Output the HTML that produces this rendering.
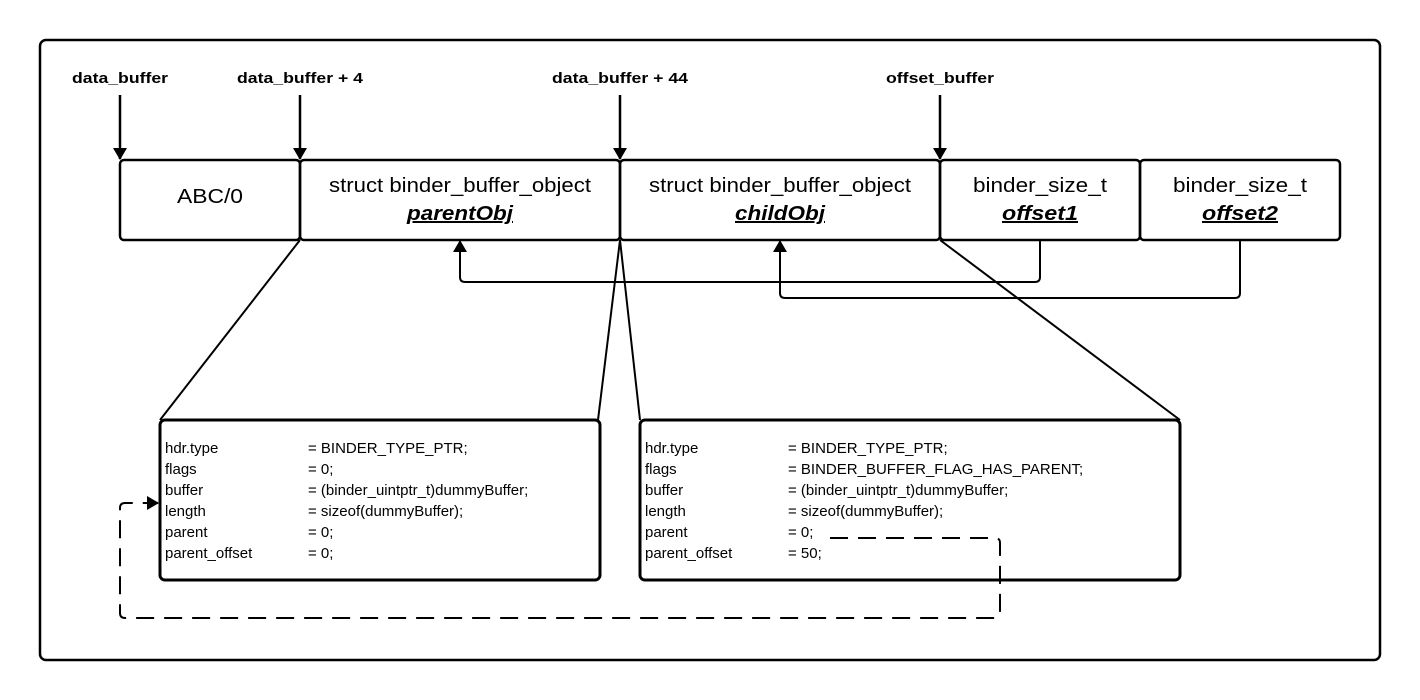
<!DOCTYPE html>
<html><head><style>body{margin:0;background:#fff}svg{display:block}text{font-family:"Liberation Sans",sans-serif;fill:#000}</style></head>
<body>
<svg width="1420" height="700" viewBox="0 0 1420 700">
<defs>
<marker id="b" markerWidth="12" markerHeight="14" refX="11" refY="7" orient="auto" markerUnits="userSpaceOnUse"><path d="M0,0 L12,7 L0,14 z"/></marker></defs>
<rect x="40" y="40" width="1340" height="620" rx="6" fill="none" stroke="#000" stroke-width="2.5"/>
<g font-size="15" font-weight="bold" text-anchor="middle" lengthAdjust="spacingAndGlyphs">
<text x="120" y="83" textLength="96" lengthAdjust="spacingAndGlyphs">data_buffer</text>
<text x="300" y="83" textLength="126" lengthAdjust="spacingAndGlyphs">data_buffer + 4</text>
<text x="620" y="83" textLength="136" lengthAdjust="spacingAndGlyphs">data_buffer + 44</text>
<text x="940" y="83" textLength="108" lengthAdjust="spacingAndGlyphs">offset_buffer</text>
</g>
<g stroke="#000" stroke-width="2.5" fill="none">
<line x1="120" y1="95" x2="120" y2="159" marker-end="url(#b)"/>
<line x1="300" y1="95" x2="300" y2="159" marker-end="url(#b)"/>
<line x1="620" y1="95" x2="620" y2="159" marker-end="url(#b)"/>
<line x1="940" y1="95" x2="940" y2="159" marker-end="url(#b)"/>
<rect x="120" y="160" width="180" height="80" rx="4"/>
<rect x="300" y="160" width="320" height="80" rx="4"/>
<rect x="620" y="160" width="320" height="80" rx="4"/>
<rect x="940" y="160" width="200" height="80" rx="4"/>
<rect x="1140" y="160" width="200" height="80" rx="4"/>
<path d="M1040,240 V277 Q1040,282 1035,282 H465 Q460,282 460,277 V241" stroke-width="2" marker-end="url(#b)"/>
<path d="M1240,240 V293 Q1240,298 1235,298 H785 Q780,298 780,293 V241" stroke-width="2" marker-end="url(#b)"/>
<g stroke-width="2">
<line x1="300" y1="240" x2="160" y2="420"/>
<line x1="620" y1="240" x2="598" y2="420"/>
<line x1="620" y1="240" x2="640" y2="420"/>
<line x1="940" y1="240" x2="1180" y2="420"/>
</g>
<rect x="160" y="420" width="440" height="160" rx="5" stroke-width="3"/>
<rect x="640" y="420" width="540" height="160" rx="5" stroke-width="3"/>
<path d="M830,538 H995 Q1000,538 1000,543 V613 Q1000,618 995,618 H125 Q120,618 120,613 V508 Q120,503 125,503 H158" stroke-width="2" stroke-dasharray="18,10" marker-end="url(#b)"/>
</g>
<g font-size="20" text-anchor="middle">
<text x="210" y="203" textLength="66" lengthAdjust="spacingAndGlyphs">ABC/0</text>
<text x="460" y="192" textLength="262" lengthAdjust="spacingAndGlyphs">struct binder_buffer_object</text>
<text x="780" y="192" textLength="262" lengthAdjust="spacingAndGlyphs">struct binder_buffer_object</text>
<text x="1040" y="192" textLength="134" lengthAdjust="spacingAndGlyphs">binder_size_t</text>
<text x="1240" y="192" textLength="134" lengthAdjust="spacingAndGlyphs">binder_size_t</text>
<g font-weight="bold" font-style="italic" text-decoration="underline">
<text x="460" y="220" textLength="106" lengthAdjust="spacingAndGlyphs">parentObj</text>
<text x="780" y="220" textLength="90" lengthAdjust="spacingAndGlyphs">childObj</text>
<text x="1040" y="220" textLength="76" lengthAdjust="spacingAndGlyphs">offset1</text>
<text x="1240" y="220" textLength="76" lengthAdjust="spacingAndGlyphs">offset2</text>
</g></g>
<g font-size="15">
<text x="165" y="453">hdr.type</text><text x="308" y="453">= BINDER_TYPE_PTR;</text>
<text x="165" y="474">flags</text><text x="308" y="474">= 0;</text>
<text x="165" y="495">buffer</text><text x="308" y="495">= (binder_uintptr_t)dummyBuffer;</text>
<text x="165" y="516">length</text><text x="308" y="516">= sizeof(dummyBuffer);</text>
<text x="165" y="537">parent</text><text x="308" y="537">= 0;</text>
<text x="165" y="558">parent_offset</text><text x="308" y="558">= 0;</text>
<text x="645" y="453">hdr.type</text><text x="788" y="453">= BINDER_TYPE_PTR;</text>
<text x="645" y="474">flags</text><text x="788" y="474">= BINDER_BUFFER_FLAG_HAS_PARENT;</text>
<text x="645" y="495">buffer</text><text x="788" y="495">= (binder_uintptr_t)dummyBuffer;</text>
<text x="645" y="516">length</text><text x="788" y="516">= sizeof(dummyBuffer);</text>
<text x="645" y="537">parent</text><text x="788" y="537">= 0;</text>
<text x="645" y="558">parent_offset</text><text x="788" y="558">= 50;</text>
</g>
</svg>
</body></html>
